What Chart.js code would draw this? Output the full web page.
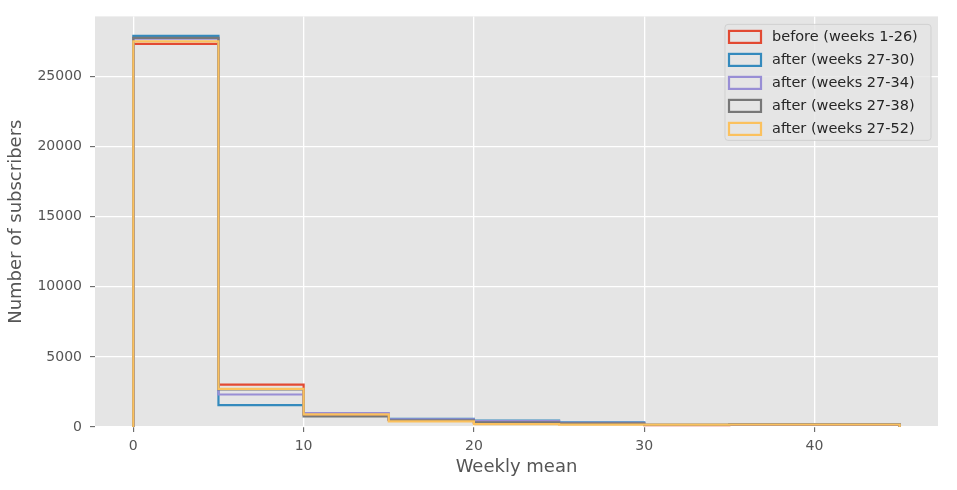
<!DOCTYPE html>
<html>
<head>
<meta charset="utf-8">
<script src="https://cdn.jsdelivr.net/npm/chart.js@4"></script>
<style>
html,body{margin:0;padding:0;background:#fff;}
#wrap{width:957px;height:490px;}
</style>
</head>
<body>
<div id="wrap"><canvas id="c" width="957" height="490"></canvas></div>
<script>
// Bin edges (weekly mean)
const binEdges = [0, 5, 10, 15, 20, 25, 30, 35, 40, 45];
// Series labels
const seriesLabels = ["before (weeks 1-26)", "after (weeks 27-30)", "after (weeks 27-34)", "after (weeks 27-38)", "after (weeks 27-52)"];
// Counts per bin for each series
const before_1_26  = [27330, 3030, 880, 500, 300, 230, 140, 170, 170];
const after_27_30  = [27900, 1565, 920, 590, 460, 330, 150, 213, 213];
const after_27_34  = [27700, 2320, 1000, 540, 420, 300, 150, 190, 190];
const after_27_38  = [27760, 2680, 750, 480, 330, 260, 155, 185, 185];
const after_27_52  = [27520, 2720, 900, 400, 200, 165, 165, 180, 180];
// Tick labels
const xTicks = [0, 10, 20, 30, 40];
const yTicks = [0, 5000, 10000, 15000, 20000, 25000];

const seriesValues = [before_1_26, after_27_30, after_27_34, after_27_38, after_27_52];
const colors = ["#E24A33", "#348ABD", "#988ED5", "#777777", "#FBC15E"];

function stepPoints(vals) {
  const pts = [{x: binEdges[0], y: 0}];
  vals.forEach((v, i) => {
    pts.push({x: binEdges[i], y: v});
    pts.push({x: binEdges[i + 1], y: v});
  });
  pts.push({x: binEdges[binEdges.length - 1], y: 0});
  return pts;
}

const datasets = seriesValues.map((vals, i) => ({
  label: seriesLabels[i],
  data: stepPoints(vals),
  borderColor: colors[i],
  backgroundColor: "rgba(0,0,0,0)",
  borderWidth: 2.2,
  pointRadius: 0,
  tension: 0,
  fill: false,
  borderJoinStyle: "miter",
  order: seriesValues.length - i
}));

const maxVal = Math.max(...seriesValues.flat());
const xMin = binEdges[0], xMax = binEdges[binEdges.length - 1];
const xPad = (xMax - xMin) * 0.05;

const bgPlugin = {
  id: "bg",
  beforeDraw(chart) {
    const {ctx, chartArea: a} = chart;
    ctx.save();
    ctx.fillStyle = "#fff";
    ctx.fillRect(0, 0, chart.width, chart.height);
    ctx.fillStyle = "#E5E5E5";
    ctx.fillRect(a.left, a.top, a.right - a.left, a.bottom - a.top);
    ctx.restore();
  }
};

const legendPlugin = {
  id: "boxLegend",
  afterDraw(chart) {
    const ctx = chart.ctx;
    const a = chart.chartArea;
    const bx = a.right - 7 - 206, by = a.top + 8, bw = 206, bh = 116;
    ctx.save();
    ctx.beginPath();
    ctx.roundRect(bx, by, bw, bh, 3);
    ctx.fillStyle = "rgba(229,229,229,0.8)";
    ctx.fill();
    ctx.lineWidth = 1;
    ctx.strokeStyle = "rgba(204,204,204,0.8)";
    ctx.stroke();
    ctx.font = "14.5px 'DejaVu Sans'";
    ctx.textBaseline = "middle";
    chart.data.datasets.forEach((ds, i) => {
      const cy = by + 12.5 + i * 23;
      ctx.lineWidth = 2.2;
      ctx.strokeStyle = ds.borderColor;
      ctx.strokeRect(bx + 4, cy - 6, 32, 12);
      ctx.fillStyle = "#262626";
      ctx.fillText(ds.label, bx + 47, cy + 0.5);
    });
    ctx.restore();
  }
};

new Chart(document.getElementById("c"), {
  type: "line",
  data: {datasets},
  options: {
    responsive: false,
    animation: false,
    events: [],
    layout: {padding: {top: 15, right: 19, left: 0, bottom: 0}},
    plugins: {legend: {display: false}, tooltip: {enabled: false}},
    scales: {
      x: {
        type: "linear",
        min: xMin - xPad,
        max: xMax + xPad,
        afterBuildTicks: s => { s.ticks = xTicks.map(v => ({value: v})); },
        afterFit: s => { s.height = 63; },
        border: {display: false},
        grid: {color: "#FFFFFF", lineWidth: 1.3, tickColor: "#555555", tickLength: 5, tickWidth: 1},
        ticks: {color: "#555555", font: {family: "DejaVu Sans", size: 14}, padding: 6, maxRotation: 0},
        title: {display: true, text: "Weekly mean", color: "#555555", font: {family: "DejaVu Sans", size: 18}, padding: {top: 4, bottom: 12}}
      },
      y: {
        type: "linear",
        min: 0,
        max: maxVal * 1.05,
        afterBuildTicks: s => { s.ticks = yTicks.map(v => ({value: v})); },
        afterFit: s => { s.width = 95; },
        border: {display: false},
        grid: {color: "#FFFFFF", lineWidth: 1.3, tickColor: "#555555", tickLength: 5, tickWidth: 1},
        ticks: {color: "#555555", font: {family: "DejaVu Sans", size: 14}, padding: 8, callback: v => String(v)},
        title: {display: true, text: "Number of subscribers", color: "#555555", font: {family: "DejaVu Sans", size: 18}, padding: {top: 6, bottom: 0}}
      }
    }
  },
  plugins: [bgPlugin, legendPlugin]
});
</script>
</body>
</html>
